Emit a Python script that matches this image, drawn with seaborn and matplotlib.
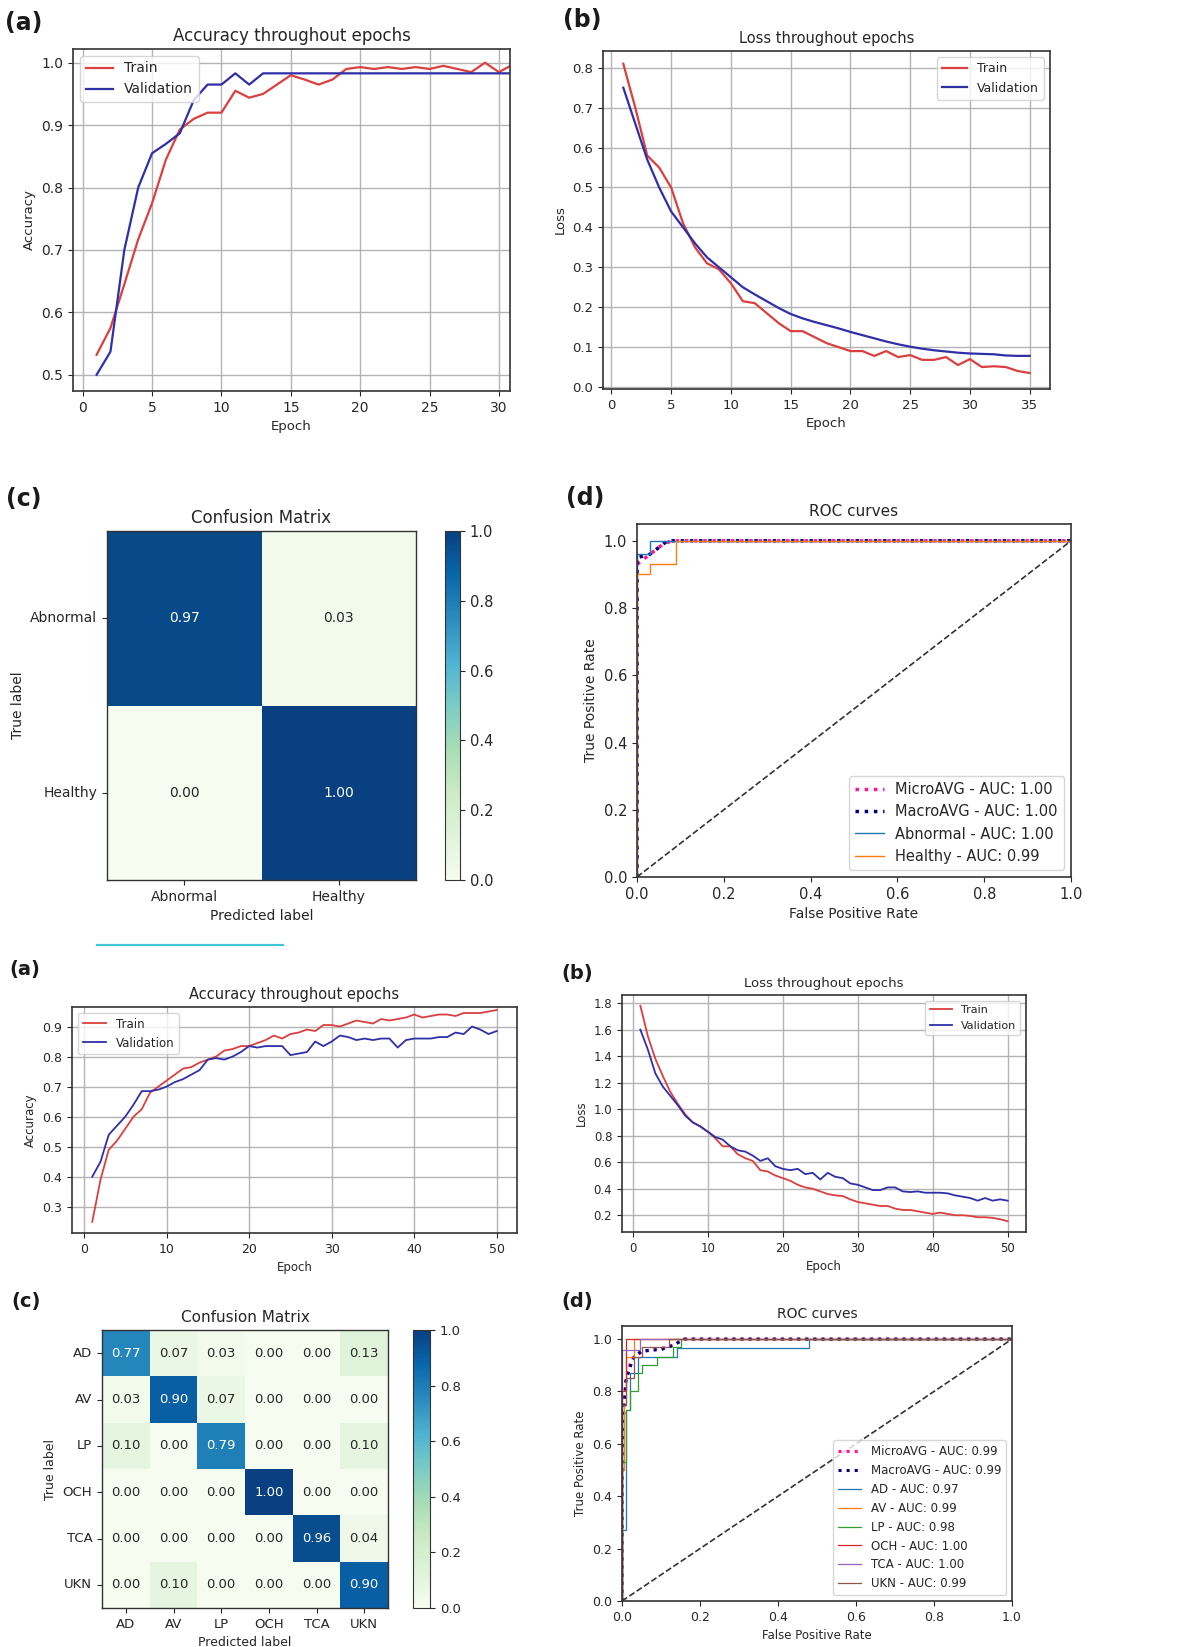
import numpy as np
import pandas as pd
import matplotlib
matplotlib.use("Agg")
import matplotlib.pyplot as plt
import seaborn as sns
from matplotlib.lines import Line2D

# ─────────────────────────────────────────────
# DATA — binary model (top half)
# ─────────────────────────────────────────────
epochs_bin = np.arange(1, 32)
train_acc_bin = [0.532, 0.575, 0.645, 0.717, 0.775, 0.845, 0.893, 0.910, 0.920, 0.920,
                 0.955, 0.944, 0.950, 0.965, 0.980, 0.973, 0.965, 0.973, 0.990, 0.993,
                 0.990, 0.993, 0.990, 0.993, 0.990, 0.995, 0.990, 0.985, 1.000, 0.985,
                 0.997]
val_acc_bin = [0.500, 0.537, 0.700, 0.800, 0.855, 0.870, 0.887, 0.940, 0.965, 0.965,
               0.983, 0.965, 0.983, 0.983, 0.983, 0.983, 0.983, 0.983, 0.983, 0.983,
               0.983, 0.983, 0.983, 0.983, 0.983, 0.983, 0.983, 0.983, 0.983, 0.983,
               0.983]

epochs_bin_loss = np.arange(1, 36)
train_loss_bin = [0.81, 0.70, 0.58, 0.55, 0.50, 0.41, 0.35, 0.31, 0.295, 0.26,
                  0.215, 0.21, 0.185, 0.16, 0.14, 0.14, 0.125, 0.11, 0.10, 0.09,
                  0.09, 0.078, 0.09, 0.075, 0.08, 0.068, 0.068, 0.075, 0.055, 0.07,
                  0.05, 0.052, 0.05, 0.04, 0.035]
val_loss_bin = [0.75, 0.66, 0.57, 0.50, 0.44, 0.40, 0.36, 0.325, 0.30, 0.275,
                0.25, 0.232, 0.215, 0.198, 0.183, 0.172, 0.163, 0.155, 0.147, 0.138,
                0.13, 0.122, 0.114, 0.107, 0.101, 0.096, 0.092, 0.089, 0.086, 0.084,
                0.083, 0.082, 0.079, 0.078, 0.078]

classes_bin = ["Abnormal", "Healthy"]
cm_bin = [[0.97, 0.03],
          [0.00, 1.00]]

roc_micro_bin_fpr = [0.0, 0.0, 0.02, 0.04, 0.06, 0.08, 1.0]
roc_micro_bin_tpr = [0.0, 0.93, 0.95, 0.97, 0.99, 1.00, 1.00]
roc_macro_bin_fpr = [0.0, 0.0, 0.03, 0.05, 0.07, 1.0]
roc_macro_bin_tpr = [0.0, 0.95, 0.96, 0.98, 1.00, 1.00]
roc_abn_fpr = [0.0, 0.0, 0.03, 0.03, 1.0]
roc_abn_tpr = [0.0, 0.96, 0.96, 1.00, 1.00]
roc_hea_fpr = [0.0, 0.0, 0.03, 0.03, 0.09, 0.09, 1.0]
roc_hea_tpr = [0.0, 0.90, 0.90, 0.93, 0.93, 1.00, 1.00]
auc_bin = {"MicroAVG": 1.00, "MacroAVG": 1.00, "Abnormal": 1.00, "Healthy": 0.99}

# ─────────────────────────────────────────────
# DATA — six-class model (bottom half)
# ─────────────────────────────────────────────
epochs_mc = np.arange(1, 51)
train_acc_mc = [0.25, 0.39, 0.49, 0.52, 0.56, 0.60, 0.625, 0.68, 0.70, 0.72,
                0.74, 0.76, 0.765, 0.78, 0.79, 0.80, 0.82, 0.825, 0.835, 0.835,
                0.845, 0.855, 0.87, 0.86, 0.875, 0.88, 0.89, 0.885, 0.905, 0.905,
                0.90, 0.91, 0.92, 0.915, 0.91, 0.925, 0.92, 0.925, 0.93, 0.94,
                0.93, 0.935, 0.94, 0.94, 0.935, 0.945, 0.945, 0.945, 0.95, 0.955]
val_acc_mc = [0.40, 0.45, 0.54, 0.57, 0.60, 0.64, 0.685, 0.685, 0.69, 0.70,
              0.715, 0.725, 0.74, 0.755, 0.79, 0.795, 0.79, 0.80, 0.815, 0.835,
              0.83, 0.835, 0.835, 0.835, 0.805, 0.81, 0.815, 0.85, 0.835, 0.85,
              0.87, 0.865, 0.855, 0.86, 0.855, 0.86, 0.86, 0.83, 0.855, 0.86,
              0.86, 0.86, 0.865, 0.865, 0.88, 0.875, 0.90, 0.89, 0.875, 0.885]

train_loss_mc = [1.78, 1.55, 1.38, 1.25, 1.13, 1.04, 0.96, 0.90, 0.87, 0.83,
                 0.78, 0.72, 0.72, 0.66, 0.63, 0.61, 0.54, 0.53, 0.50, 0.48,
                 0.46, 0.43, 0.41, 0.40, 0.38, 0.36, 0.35, 0.345, 0.32, 0.30,
                 0.29, 0.28, 0.27, 0.27, 0.25, 0.24, 0.24, 0.23, 0.22, 0.21,
                 0.22, 0.21, 0.20, 0.20, 0.195, 0.185, 0.185, 0.18, 0.17, 0.155]
val_loss_mc = [1.60, 1.45, 1.27, 1.17, 1.10, 1.03, 0.95, 0.90, 0.87, 0.83,
               0.79, 0.77, 0.72, 0.69, 0.68, 0.65, 0.61, 0.63, 0.57, 0.55,
               0.54, 0.55, 0.51, 0.52, 0.47, 0.52, 0.49, 0.48, 0.44, 0.43,
               0.41, 0.39, 0.39, 0.41, 0.41, 0.38, 0.375, 0.38, 0.37, 0.37,
               0.37, 0.365, 0.35, 0.34, 0.33, 0.31, 0.33, 0.31, 0.32, 0.31]

classes_mc = ["AD", "AV", "LP", "OCH", "TCA", "UKN"]
cm_mc = [[0.77, 0.07, 0.03, 0.00, 0.00, 0.13],
         [0.03, 0.90, 0.07, 0.00, 0.00, 0.00],
         [0.10, 0.00, 0.79, 0.00, 0.00, 0.10],
         [0.00, 0.00, 0.00, 1.00, 0.00, 0.00],
         [0.00, 0.00, 0.00, 0.00, 0.96, 0.04],
         [0.00, 0.10, 0.00, 0.00, 0.00, 0.90]]

roc_micro_mc_fpr = [0.0, 0.0, 0.005, 0.01, 0.02, 0.03, 0.05, 0.08, 0.12, 0.16, 1.0]
roc_micro_mc_tpr = [0.0, 0.60, 0.76, 0.84, 0.90, 0.93, 0.95, 0.96, 0.97, 1.00, 1.00]
roc_macro_mc_fpr = [0.0, 0.0, 0.005, 0.01, 0.02, 0.03, 0.05, 0.10, 0.13, 0.16, 1.0]
roc_macro_mc_tpr = [0.0, 0.55, 0.73, 0.84, 0.89, 0.93, 0.955, 0.96, 0.975, 1.00, 1.00]
roc_ad_fpr = [0.0, 0.0, 0.01, 0.01, 0.02, 0.02, 0.04, 0.04, 0.14, 0.14, 0.48, 0.48, 1.0]
roc_ad_tpr = [0.0, 0.27, 0.27, 0.73, 0.73, 0.87, 0.87, 0.93, 0.93, 0.965, 0.965, 1.0, 1.0]
roc_av_fpr = [0.0, 0.0, 0.005, 0.005, 0.01, 0.01, 0.03, 0.03, 1.0]
roc_av_tpr = [0.0, 0.50, 0.50, 0.75, 0.75, 0.93, 0.93, 1.00, 1.00]
roc_lp_fpr = [0.0, 0.0, 0.01, 0.01, 0.02, 0.02, 0.04, 0.04, 0.05, 0.05, 0.09, 0.09,
              0.13, 0.13, 0.15, 0.15, 1.0]
roc_lp_tpr = [0.0, 0.53, 0.53, 0.73, 0.73, 0.80, 0.80, 0.87, 0.87, 0.90, 0.90, 0.93,
              0.93, 0.97, 0.97, 1.00, 1.00]
roc_och_fpr = [0.0, 0.0, 0.01, 0.01, 1.0]
roc_och_tpr = [0.0, 0.80, 0.80, 1.00, 1.00]
roc_tca_fpr = [0.0, 0.0, 0.045, 0.045, 1.0]
roc_tca_tpr = [0.0, 0.96, 0.96, 1.00, 1.00]
roc_ukn_fpr = [0.0, 0.0, 0.01, 0.01, 0.03, 0.03, 0.05, 0.05, 0.12, 0.12, 1.0]
roc_ukn_tpr = [0.0, 0.75, 0.75, 0.85, 0.85, 0.93, 0.93, 0.97, 0.97, 1.00, 1.00]
auc_mc = {"MicroAVG": 0.99, "MacroAVG": 0.99, "AD": 0.97, "AV": 0.99, "LP": 0.98,
          "OCH": 1.00, "TCA": 1.00, "UKN": 0.99}

# ─────────────────────────────────────────────
# STYLE
# ─────────────────────────────────────────────
TXT = "#262626"
TRAIN_C = "#d9403f"
VAL_C = "#2f2fa8"
GRID_C = "#b4b4b4"
CLASS_COLORS = ["#1f77b4", "#ff7f0e", "#2ca02c", "#d62728", "#9467bd", "#8c564b"]

plt.rcParams["font.family"] = ["DejaVu Sans"]
plt.rcParams["text.color"] = TXT
plt.rcParams["axes.labelcolor"] = TXT
plt.rcParams["xtick.color"] = TXT
plt.rcParams["ytick.color"] = TXT
plt.rcParams["axes.edgecolor"] = "#333333"

W, H = 1184, 1647
fig = plt.figure(figsize=(W / 100, H / 100), dpi=100)


def box(x0, y0, x1, y1):
    # pixel box (top-left origin) -> figure fraction rect
    return [x0 / W, 1 - y1 / H, (x1 - x0) / W, (y1 - y0) / H]


def curve_panel(ax, ep, train, val, title, ylabel, loc, fs, lw):
    sns.lineplot(x=ep, y=train, ax=ax, color=TRAIN_C, linewidth=lw,
                 estimator=None, label="Train")
    sns.lineplot(x=ep, y=val, ax=ax, color=VAL_C, linewidth=lw,
                 estimator=None, label="Validation")
    ax.grid(True, color=GRID_C, linewidth=1.0)
    ax.set_title(title, fontsize=fs["title"])
    ax.set_xlabel("Epoch", fontsize=fs["label"])
    ax.set_ylabel(ylabel, fontsize=fs["label"])
    ax.tick_params(labelsize=fs["tick"])
    ax.legend(loc=loc, fontsize=fs["legend"])
    for s in ax.spines.values():
        s.set_visible(True)
        s.set_linewidth(1.2)


def cm_panel(ax, cax, cm, classes, fs):
    df = pd.DataFrame(cm, index=classes, columns=classes)
    sns.heatmap(df, ax=ax, cbar_ax=cax, cmap="GnBu", vmin=0, vmax=1,
                annot=True, fmt=".2f", annot_kws={"fontsize": fs["annot"]})
    ax.set_title("Confusion Matrix", fontsize=fs["title"])
    ax.set_xlabel("Predicted label", fontsize=fs["label"])
    ax.set_ylabel("True label", fontsize=fs["label"])
    ax.tick_params(labelsize=fs["tick"], length=3.5, width=0.8)
    ax.set_yticklabels(classes, rotation=0)
    ax.set_xticklabels(classes, rotation=0)
    for s in ax.spines.values():
        s.set_visible(True)
        s.set_linewidth(1.0)
    cb = ax.collections[0].colorbar
    cb.outline.set_linewidth(0.8)
    cb.set_ticks([0.0, 0.2, 0.4, 0.6, 0.8, 1.0])
    cax.tick_params(labelsize=fs["cbar"])


def roc_panel(ax, curves, fs):
    for name, fpr, tpr, color, ls, lw in curves:
        sns.lineplot(x=fpr, y=tpr, ax=ax, sort=False, estimator=None,
                     color=color, linestyle=ls, linewidth=lw, label=name)
    sns.lineplot(x=[0, 1], y=[0, 1], ax=ax, sort=False, estimator=None,
                 color="#333333", linestyle="--", linewidth=1.2)
    ax.set_xlim(0, 1)
    ax.set_ylim(0, 1.05)
    ax.set_title("ROC curves", fontsize=fs["title"])
    ax.set_xlabel("False Positive Rate", fontsize=fs["label"])
    ax.set_ylabel("True Positive Rate", fontsize=fs["label"])
    ax.tick_params(labelsize=fs["tick"])
    ax.legend(loc="lower right", fontsize=fs["legend"])
    for s in ax.spines.values():
        s.set_linewidth(1.2)


# ─────────────────────────────────────────────
# TOP HALF
# ─────────────────────────────────────────────
fs_top = {"title": 12, "label": 9.5, "tick": 10, "legend": 10}
ax = fig.add_axes(box(73, 49, 510, 391))
curve_panel(ax, epochs_bin, train_acc_bin, val_acc_bin,
            "Accuracy throughout epochs", "Accuracy", "upper left", fs_top, 1.6)
ax.set_xlim(-0.7, 30.8)
ax.set_ylim(0.474, 1.022)

fs_topb = {"title": 10.5, "label": 9.5, "tick": 9.5, "legend": 9}
ax = fig.add_axes(box(603, 51, 1050, 389))
curve_panel(ax, epochs_bin_loss, train_loss_bin, val_loss_bin,
            "Loss throughout epochs", "Loss", "upper right", fs_topb, 1.6)
ax.set_ylim(-0.005, 0.842)

ax = fig.add_axes(box(107, 531, 416, 880))
cax = fig.add_axes(box(445, 531, 460, 880))
cm_panel(ax, cax, cm_bin, classes_bin,
         {"title": 12, "label": 10, "tick": 10, "annot": 10, "cbar": 10.5})

ax = fig.add_axes(box(637, 524, 1071, 877))
roc_panel(ax, [
    (f"MicroAVG - AUC: {auc_bin['MicroAVG']:.2f}", roc_micro_bin_fpr, roc_micro_bin_tpr, "deeppink", ":", 2.5),
    (f"MacroAVG - AUC: {auc_bin['MacroAVG']:.2f}", roc_macro_bin_fpr, roc_macro_bin_tpr, "navy", ":", 2.5),
    (f"Abnormal - AUC: {auc_bin['Abnormal']:.2f}", roc_abn_fpr, roc_abn_tpr, CLASS_COLORS[0], "-", 1.0),
    (f"Healthy - AUC: {auc_bin['Healthy']:.2f}", roc_hea_fpr, roc_hea_tpr, CLASS_COLORS[1], "-", 1.0),
], {"title": 11, "label": 10, "tick": 10.5, "legend": 10.5})

# ─────────────────────────────────────────────
# BOTTOM HALF
# ─────────────────────────────────────────────
fs_bota = {"title": 10.5, "label": 8.5, "tick": 9, "legend": 8.5}
ax = fig.add_axes(box(72, 1007, 517, 1233))
curve_panel(ax, epochs_mc, train_acc_mc, val_acc_mc,
            "Accuracy throughout epochs", "Accuracy", "upper left", fs_bota, 1.3)
ax.set_ylim(0.213, 0.965)
ax.set_yticks(np.arange(0.3, 0.95, 0.1))

fs_botb = {"title": 9.5, "label": 8.5, "tick": 8.5, "legend": 8}
ax = fig.add_axes(box(622, 995, 1026, 1232))
curve_panel(ax, epochs_mc, train_loss_mc, val_loss_mc,
            "Loss throughout epochs", "Loss", "upper right", fs_botb, 1.3)
ax.set_yticks(np.arange(0.2, 1.85, 0.2))

ax = fig.add_axes(box(102, 1330, 388, 1608))
cax = fig.add_axes(box(413, 1330, 430, 1608))
cm_panel(ax, cax, cm_mc, classes_mc,
         {"title": 11, "label": 9, "tick": 9.5, "annot": 9.5, "cbar": 9.5})

mc_curves = [
    (f"MicroAVG - AUC: {auc_mc['MicroAVG']:.2f}", roc_micro_mc_fpr, roc_micro_mc_tpr, "deeppink", ":", 2.2),
    (f"MacroAVG - AUC: {auc_mc['MacroAVG']:.2f}", roc_macro_mc_fpr, roc_macro_mc_tpr, "navy", ":", 2.2),
]
for name, fpr, tpr, col in zip(classes_mc,
                               [roc_ad_fpr, roc_av_fpr, roc_lp_fpr, roc_och_fpr, roc_tca_fpr, roc_ukn_fpr],
                               [roc_ad_tpr, roc_av_tpr, roc_lp_tpr, roc_och_tpr, roc_tca_tpr, roc_ukn_tpr],
                               CLASS_COLORS):
    mc_curves.append((f"{name} - AUC: {auc_mc[name]:.2f}", fpr, tpr, col, "-", 0.9))
ax = fig.add_axes(box(622, 1326, 1012, 1601))
roc_panel(ax, mc_curves, {"title": 10, "label": 8.5, "tick": 9, "legend": 8.5})

# ─────────────────────────────────────────────
# PANEL LETTERS + stray rule from the source page
# ─────────────────────────────────────────────
letters = [("(a)", 5, 23, 17), ("(b)", 563, 20, 17), ("(c)", 6, 499, 17), ("(d)", 566, 498, 17),
           ("(a)", 9, 970, 14), ("(b)", 561, 974, 14), ("(c)", 11, 1301, 14), ("(d)", 561, 1302, 14)]
for txt, x, y, size in letters:
    fig.text(x / W, 1 - y / H, txt, fontsize=size, fontweight="bold",
             ha="left", va="center", color="#1a1a1a")

fig.add_artist(Line2D([97 / W, 283 / W], [1 - 945 / H, 1 - 945 / H],
                      color="#45c6d6", linewidth=1.6, transform=fig.transFigure))

plt.savefig("out.png", dpi=100)
plt.close()
